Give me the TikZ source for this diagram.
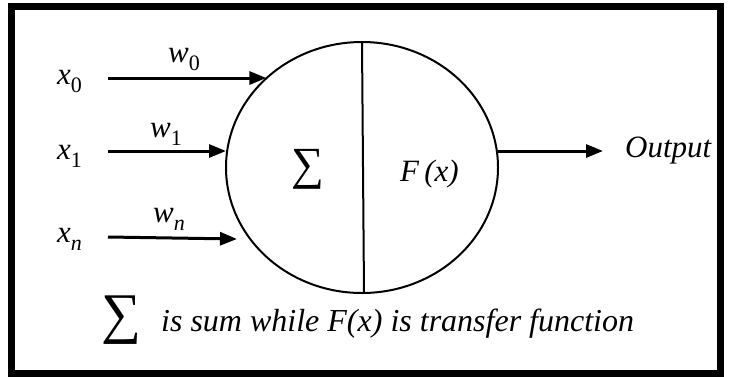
\documentclass[tikz,border=0pt]{standalone}
\usepackage{fontspec}
\setmainfont{Liberation Serif}
\usepackage{tikz}
\usetikzlibrary{arrows.meta,positioning,shapes.geometric}

\newcommand{\lab}[2]{\textit{#1}\raisebox{-8pt}{\fontsize{22}{22}\selectfont #2}}

\begin{document}
\begin{tikzpicture}[x=1pt,y=-1pt,
    lbl/.style={inner sep=0pt, anchor=base west, font=\fontsize{31}{33}\selectfont\itshape},
    arr/.style={line width=3pt, -{Triangle[length=17pt,width=13pt]}}
  ]
  \useasboundingbox (0,0) rectangle (731,376);
  \draw[line width=7pt] (11.5,6.5) rectangle (720.5,373);

  % neuron body
  \node[draw, ellipse, line width=2pt, minimum width=272pt, minimum height=251pt,
    inner sep=0pt, outer sep=0pt] (neuron) at (362,167.5) {};
  \draw[line width=2pt] (neuron.north) -- ([xshift=2pt]neuron.south);
  \node[inner sep=0pt, font=\fontsize{46}{48}\selectfont] (sum) at (308,169) {∑};
  \node[lbl] (fx) at (400,181) {\textit{F}\,(\textit{x})};

  % inputs
  \node[lbl] (x0) at (57,84) {\lab{x}{\textup{0}}};
  \node[lbl] (x1) at (57,159) {\lab{x}{\textup{1}}};
  \node[lbl] (xn) at (57,242) {\lab{x}{n}};
  \node[lbl] (w0) at (168,62) {\lab{w}{\textup{0}}};
  \node[lbl] (w1) at (150,137) {\lab{w}{\textup{1}}};
  \node[lbl] (wn) at (153,222) {\lab{w}{n}};

  \coordinate (s0) at (108,78);
  \coordinate (s1) at (108,151);
  \coordinate (sn) at (108,237);
  \coordinate (en) at (237,239);
  \draw[arr] (s0) -- (s0 -| neuron.137);
  \draw[arr] (s1) -- (s1 -| neuron.west);
  \draw[arr] (sn) -- (en);

  % output
  \node[lbl] (output) at (625,157) {Output};
  \coordinate (o) at (603,151);
  \draw[arr] (o -| neuron.east) -- (o);

  % legend
  \node[lbl, font=\fontsize{32}{34}\selectfont\itshape] (note) at (161,331) {is sum while F(x) is transfer function};
  \node[inner sep=0pt, font=\fontsize{56}{58}\selectfont] (sumkey) at (121,320) {∑};
\end{tikzpicture}
\end{document}
